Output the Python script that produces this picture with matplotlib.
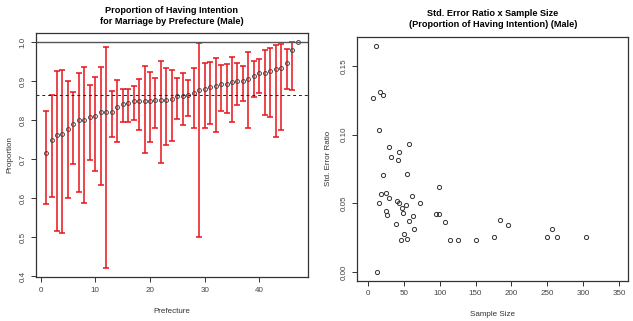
import numpy as np
import matplotlib.pyplot as plt

plt.rcParams['font.family'] = ['Liberation Sans', 'DejaVu Sans']

# left panel: proportion by prefecture (sorted), with CI
prop = [0.715, 0.750, 0.762, 0.765, 0.777, 0.790, 0.801, 0.801, 0.808, 0.810,
        0.820, 0.820, 0.822, 0.834, 0.842, 0.844, 0.849, 0.849, 0.849, 0.849,
        0.852, 0.852, 0.852, 0.854, 0.861, 0.863, 0.865, 0.870, 0.876, 0.880,
        0.885, 0.887, 0.892, 0.893, 0.897, 0.900, 0.901, 0.906, 0.913, 0.920,
        0.922, 0.925, 0.931, 0.934, 0.946, 0.979, 1.000]
upper = [0.824, 0.864, 0.925, 0.929, 0.901, 0.872, 0.922, 0.936, 0.891, 0.910,
         0.936, 0.987, 0.874, 0.903, 0.880, 0.880, 0.887, 0.906, 0.938, 0.923,
         0.908, 0.951, 0.933, 0.929, 0.909, 0.921, 0.904, 0.934, 0.998, 0.947,
         0.948, 0.959, 0.940, 0.945, 0.961, 0.946, 0.938, 0.974, 0.951, 0.957,
         0.979, 0.985, 0.993, 0.994, 0.982, 1.001, 1.000]
lower = [0.584, 0.604, 0.515, 0.510, 0.601, 0.687, 0.615, 0.588, 0.699, 0.669,
         0.634, 0.422, 0.757, 0.744, 0.796, 0.796, 0.801, 0.774, 0.716, 0.745,
         0.781, 0.689, 0.735, 0.746, 0.802, 0.787, 0.810, 0.779, 0.501, 0.781,
         0.790, 0.769, 0.824, 0.817, 0.796, 0.838, 0.850, 0.779, 0.860, 0.869,
         0.813, 0.808, 0.757, 0.774, 0.879, 0.877, 1.000]
overall = 0.864

# right panel: sample size vs std. error ratio
sample_size = [11, 8, 17, 21, 15, 30, 32, 44, 42, 58, 21, 54, 19, 26, 29, 15,
               41, 44, 53, 48, 61, 73, 25, 27, 49, 39, 63, 58, 64, 50, 46, 54,
               99, 95, 99, 108, 115, 125, 150, 13, 184, 195, 176, 257, 249, 264, 303]
se_ratio = [0.1647, 0.1266, 0.1310, 0.1290, 0.1031, 0.0907, 0.0837, 0.0871,
            0.0818, 0.0929, 0.0706, 0.0716, 0.0570, 0.0575, 0.0541, 0.0502,
            0.0517, 0.0500, 0.0488, 0.0463, 0.0551, 0.0502, 0.0444, 0.0415,
            0.0427, 0.0347, 0.0408, 0.0369, 0.0313, 0.0279, 0.0233, 0.0242,
            0.0616, 0.0422, 0.0422, 0.0362, 0.0233, 0.0233, 0.0235, 0.0,
            0.0376, 0.0342, 0.0253, 0.0313, 0.0253, 0.0253, 0.0255]

W, H = 633, 321
fig = plt.figure(figsize=(W / 100, H / 100), dpi=100)

def box(x0, y0, x1, y1):
    return [x0 / W, 1 - y1 / H, (x1 - x0) / W, (y1 - y0) / H]

ax1 = fig.add_axes(box(36, 32.7, 307.7, 277))
ax2 = fig.add_axes(box(357.3, 36.7, 628.3, 280.5))

fs = 5.8
for ax in (ax1, ax2):
    for s in ax.spines.values():
        s.set_linewidth(0.9)
        s.set_color('#333333')
    ax.tick_params(direction='out', length=3.5, width=0.7, labelsize=fs,
                   colors='#333333', labelcolor='#444444')
    for lab in ax.get_yticklabels():
        pass

x = np.arange(1, len(prop) + 1)
p = np.array(prop)
lo = np.array(lower)
hi = np.array(upper)
mask = hi > lo
ax1.errorbar(x[mask], p[mask], yerr=[p[mask] - lo[mask], hi[mask] - p[mask]],
             fmt='none', ecolor='#e8141b', elinewidth=1.1, capsize=2.2, capthick=1.1)
ax1.plot(x, p, 'o', mfc='none', mec='#444444', ms=2.8, mew=0.7)
ax1.axhline(1.0, color='#555555', lw=1.0)
ax1.axhline(overall, color='#222222', lw=0.7, ls=(0, (3, 3)))
ax1.set_xlim(-0.84, 48.84)
ax1.set_ylim(0.398, 1.024)
ax1.set_xticks([0, 10, 20, 30, 40])
ax1.set_yticks([0.4, 0.5, 0.6, 0.7, 0.8, 0.9, 1.0])
ax1.set_yticklabels([f'{v:.1f}' for v in ax1.get_yticks()], rotation=90, va='center')
ax1.set_xlabel('Prefecture', fontsize=fs, color='#333333', labelpad=10)
ax1.set_ylabel('Proportion', fontsize=fs, color='#333333', labelpad=4)
ax1.set_title('Proportion of Having Intention\nfor Marriage by Prefecture (Male)',
              fontsize=6.6, fontweight='bold', linespacing=1.35, pad=6)

ax2.plot(sample_size, se_ratio, 'o', mfc='none', mec='#333333', ms=3.0, mew=0.7)
ax2.set_xlim(-14.5, 362.5)
ax2.set_ylim(-0.0062, 0.1712)
ax2.set_xticks(np.arange(0, 351, 50))
ax2.set_yticks([0.0, 0.05, 0.10, 0.15])
ax2.set_yticklabels(['0.00', '0.05', '0.10', '0.15'], rotation=90, va='center')
ax2.set_xlabel('Sample Size', fontsize=fs, color='#333333', labelpad=10)
ax2.set_ylabel('Std. Error Ratio', fontsize=fs, color='#333333', labelpad=6)
ax2.set_title('Std. Error Ratio x Sample Size\n(Proportion of Having Intention) (Male)',
              fontsize=6.6, fontweight='bold', linespacing=1.35, pad=7)

fig.savefig('out.png', dpi=100)
